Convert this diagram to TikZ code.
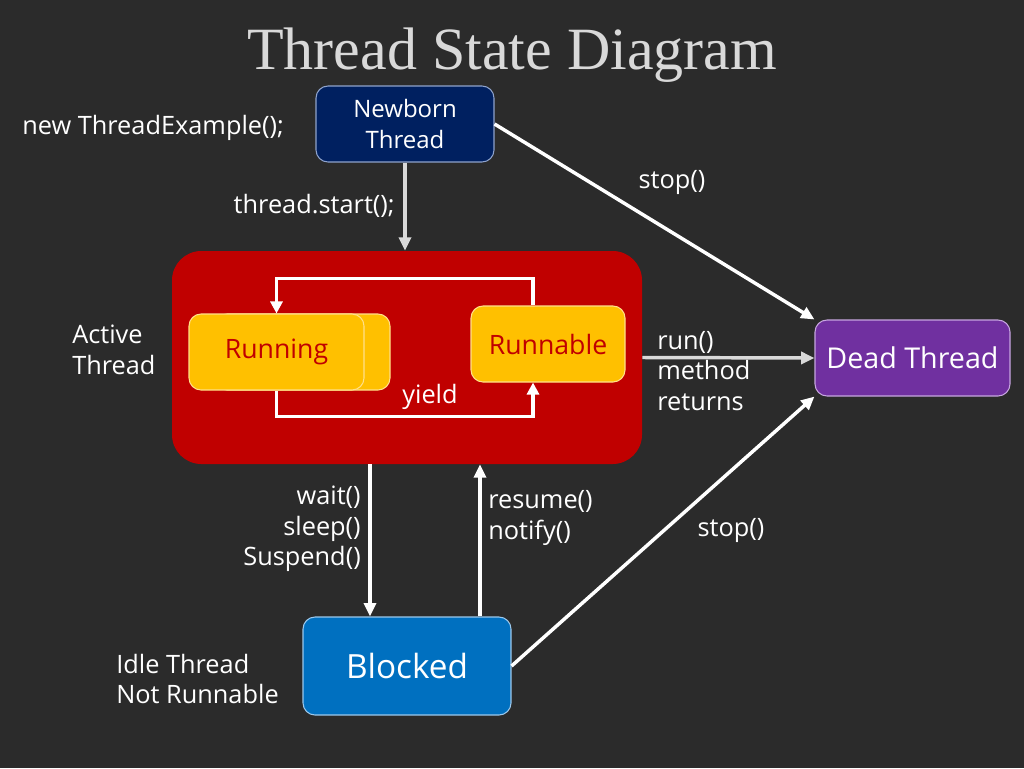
\documentclass[tikz,border=0pt]{standalone}
\usepackage{fontspec}
\setmainfont{Open Sans}
\newfontfamily\titlefont{Liberation Serif}
\usetikzlibrary{arrows.meta,calc}
\definecolor{bgc}{HTML}{2B2B2B}
\definecolor{titlec}{HTML}{D9D9D9}
\definecolor{navy}{HTML}{002060}
\definecolor{navyedge}{HTML}{8FA3CC}
\definecolor{actred}{HTML}{C00000}
\definecolor{gold}{HTML}{FFC000}
\definecolor{goldedge}{HTML}{FFE08A}
\definecolor{purp}{HTML}{7030A0}
\definecolor{purpedge}{HTML}{C7A6E0}
\definecolor{blu}{HTML}{0070C0}
\definecolor{bluedge}{HTML}{9CC8EC}
\definecolor{lgray}{HTML}{D9D9D9}
\tikzset{
  statebox/.style={rounded corners=9pt, inner sep=0pt, align=center, line width=0.8pt},
  lbl/.style={text=white, inner sep=0pt, font=\fontsize{19}{23}\selectfont},
  arr/.style={line width=2.6pt, draw=white, -{Triangle[length=10pt,width=9pt]}},
  garr/.style={line width=2.6pt, draw=lgray, -{Triangle[length=10pt,width=9pt]}},
  loop/.style={line width=2.6pt, draw=white, -{Triangle[length=9pt,width=9pt]}}
}
\begin{document}
\begin{tikzpicture}[x=0.75pt,y=-0.75pt]
\fill[bgc] (0,0) rectangle (1024,768);
\useasboundingbox (0,0) rectangle (1024,768);

\node[text=titlec, font=\titlefont\fontsize{45}{50}\selectfont] (title) at (512,55) {Thread State Diagram};

% nodes
\node[statebox, fill=navy, draw=navyedge, text=white, minimum width=133.5pt, minimum height=57pt,
      font=\fontsize{18}{23}\selectfont] (newborn) at (405,124) {Newborn\\Thread};
\node[fill=actred, rounded corners=22pt, minimum width=352.5pt, minimum height=159.75pt, inner sep=0pt] (active) at (407,357.5) {};
\node[statebox, fill=gold, draw=goldedge, minimum width=131.25pt, minimum height=57pt] (runshadow) at (302.5,352) {};
\node[statebox, fill=gold, draw=goldedge, text=actred, minimum width=131.25pt, minimum height=57pt,
      font=\fontsize{20}{24}\selectfont] (running) at (276.5,352) {Running};
\node[statebox, fill=gold, draw=goldedge, text=actred, minimum width=115.5pt, minimum height=57pt,
      font=\fontsize{20}{24}\selectfont] (runnable) at (548,344) {Runnable};
\node[statebox, fill=purp, draw=purpedge, text=white, minimum width=146.25pt, minimum height=57pt,
      font=\fontsize{21.5}{24}\selectfont] (dead) at (912.5,358) {Dead Thread};
\node[statebox, fill=blu, draw=bluedge, text=white, minimum width=156pt, minimum height=73.5pt,
      font=\fontsize{25}{28}\selectfont] (blocked) at (407,666) {Blocked};

% labels
\node[lbl, anchor=west] (newlbl) at (22,128) {new ThreadExample();};
\node[lbl, anchor=east] (startlbl) at (395,206) {thread.start();};
\node[lbl] (stop1) at (672,182) {stop()};
\node[lbl, anchor=west, align=left] (activelbl) at (72,350) {Active\\Thread};
\node[lbl] (yieldlbl) at (430,397) {yield};
\node[lbl, anchor=west, align=left] (runlbl) at (657,371) {run()\\method\\returns};
\node[lbl, anchor=east, align=right] (waitlbl) at (361,529) {wait()\\sleep()\\Suspend()};
\node[lbl, anchor=west, align=left] (resumelbl) at (488,518) {resume()\\notify()};
\node[lbl] (stop2) at (731,530) {stop()};
\node[lbl, anchor=west, align=left] (idlelbl) at (116,679) {Idle Thread\\Not Runnable};

% connectors
\draw[garr] (newborn.south) -- (newborn.south |- active.north);
\draw[arr] (newborn.east) -- (dead.north west);
\draw[garr] (active.east) -- (dead.west);
\draw[arr] (blocked.east) -- (dead.south west);
\draw[arr] ($(active.south)+(-37,0)$) -- ($(blocked.north)+(-37,0)$);
\draw[arr] ($(blocked.north)+(73,0)$) -- ($(active.south)+(73,0)$);
\draw[loop] ($(runnable.north)+(-15,0)$) -- ++(0,-27) -| (running.north);
\draw[loop] (running.south) -- ++(0,26) -| ($(runnable.south)+(-15,0)$);
\end{tikzpicture}
\end{document}
